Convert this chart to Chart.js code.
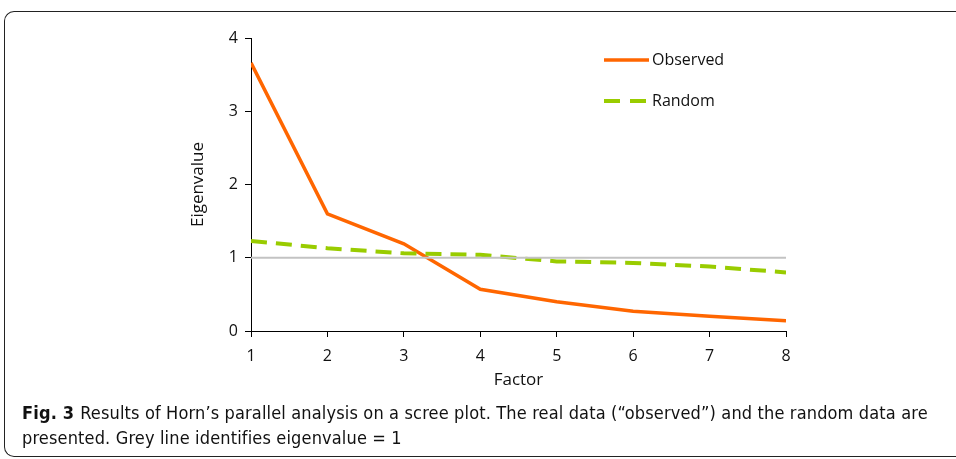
<!DOCTYPE html>
<html>
<head>
<meta charset="utf-8">
<script src="https://cdn.jsdelivr.net/npm/chart.js@4"></script>
<style>
  html, body { margin: 0; padding: 0; background: #fff; }
  body { width: 956px; height: 459px; position: relative; overflow: hidden; }
  #frame {
    position: absolute; left: 4px; top: 11px; width: 1000px; height: 446px;
    border: 1.5px solid #222; border-right: none;
    border-radius: 10px 0 0 10px;
    box-sizing: border-box;
  }
  #chart { position: absolute; left: 0; top: 0; }
  .legend { position: absolute; font-family: "Open Sans", sans-serif; font-size: 16px; color: #111; }
  .legend svg { position: absolute; left: 0; top: 0; }
  .legend span { position: absolute; white-space: nowrap; }
  #caption {
    position: absolute; left: 22px; top: 400px; width: 925px;
    font-family: "DejaVu Sans Condensed", "DejaVu Sans", sans-serif;
    font-size: 18px; line-height: 25px; letter-spacing: 0.15px; color: #111;
  }
  #caption b { font-weight: bold; margin-right: 6px; }
</style>
</head>
<body>
<div id="frame"></div>
<canvas id="chart" width="956" height="459"></canvas>

<div class="legend" style="left:603px; top:48px; width:200px; height:70px;">
  <svg width="60" height="70">
    <line x1="1" y1="12" x2="46" y2="12" stroke="#ff6600" stroke-width="3.5"/>
    <line x1="1" y1="53" x2="46" y2="53" stroke="#99cc00" stroke-width="4" stroke-dasharray="16,10"/>
  </svg>
  <span style="left:49px; top:0px;">Observed</span>
  <span style="left:49px; top:41px;">Random</span>
</div>

<div id="caption"><b>Fig. 3</b>Results of Horn’s parallel analysis on a scree plot. The real data (“observed”) and the random data are presented. Grey line identifies eigenvalue = 1</div>

<script>
// 因子番号と固有値
const factors = [1, 2, 3, 4, 5, 6, 7, 8];
const observed = [3.66, 1.60, 1.19, 0.57, 0.40, 0.27, 0.20, 0.14];
const random = [1.23, 1.13, 1.06, 1.04, 0.95, 0.93, 0.88, 0.80];
const reference = [1, 1, 1, 1, 1, 1, 1, 1];
const yTicks = [0, 1, 2, 3, 4];

const toPoints = vals => factors.map((f, i) => ({ x: f, y: vals[i] }));

const tickFont = { family: 'Open Sans', size: 16 };

new Chart(document.getElementById('chart'), {
  type: 'line',
  data: {
    datasets: [
      {
        label: 'Grey',
        data: toPoints(reference),
        borderColor: '#c3c3c3',
        borderWidth: 2,
        pointRadius: 0
      },
      {
        label: 'Random',
        data: toPoints(random),
        borderColor: '#99cc00',
        borderWidth: 4,
        borderDash: [16, 9],
        pointRadius: 0
      },
      {
        label: 'Observed',
        data: toPoints(observed),
        borderColor: '#ff6600',
        borderWidth: 3.5,
        pointRadius: 0
      }
    ]
  },
  options: {
    responsive: false,
    animation: false,
    layout: { padding: { left: 184, right: 170, top: 38, bottom: 65 } },
    plugins: { legend: { display: false }, tooltip: { enabled: false } },
    scales: {
      x: {
        type: 'linear',
        min: 1, max: 8,
        afterFit: s => { s.height = 63; },
        afterBuildTicks: s => { s.ticks = factors.map(v => ({ value: v })); },
        grid: { drawOnChartArea: false, drawTicks: true, tickLength: 6, color: '#000' },
        border: { display: true, color: '#000', width: 1 },
        ticks: { font: tickFont, color: '#111', padding: 10 },
        title: { display: true, text: 'Factor', font: { family: 'Open Sans', size: 17 }, color: '#111' }
      },
      y: {
        min: 0, max: 4,
        afterFit: s => { s.width = 67; },
        afterBuildTicks: s => { s.ticks = yTicks.map(v => ({ value: v })); },
        grid: { drawOnChartArea: false, drawTicks: true, tickLength: 6, color: '#000' },
        border: { display: true, color: '#000', width: 1 },
        ticks: { font: tickFont, color: '#111', padding: 7 },
        title: { display: true, text: 'Eigenvalue', font: { family: 'Open Sans', size: 17 }, color: '#111' }
      }
    }
  }
});
</script>
</body>
</html>
